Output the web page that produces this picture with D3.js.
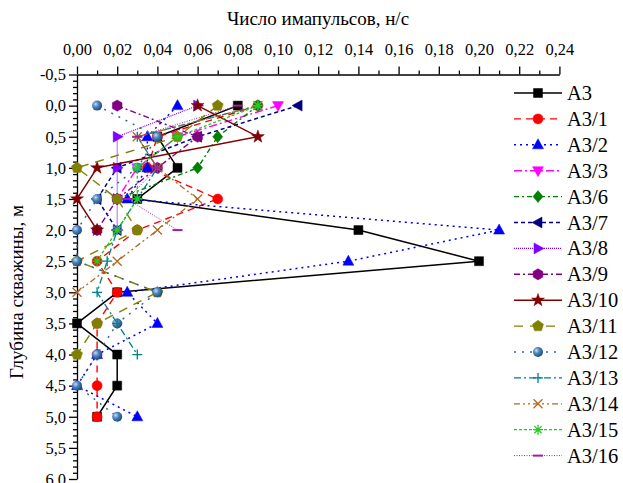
<!DOCTYPE html>
<html><head><meta charset="utf-8">
<script src="https://cdn.jsdelivr.net/npm/d3@7/dist/d3.min.js"></script>
<style>html,body{margin:0;padding:0;background:#fff}svg{display:block}
svg text{font-family:"Liberation Serif","Times New Roman","DejaVu Serif",serif;fill:#000}</style>
</head><body>
<svg id="c" width="623" height="483"></svg>
<script>
// ---- data ----
const depths = [0.0, 0.5, 1.0, 1.5, 2.0, 2.5, 3.0, 3.5, 4.0, 4.5, 5.0];
const seriesNames = ["A3","A3/1","A3/2","A3/3","A3/6","A3/7","A3/8","A3/9","A3/10","A3/11","A3/12","A3/13","A3/14","A3/15","A3/16"];
const vA3   = [0.08, 0.04, 0.05, 0.03, 0.14, 0.20, 0.02, 0.00, 0.02, 0.02, 0.01];
const vA3_1 = [0.09, 0.04, 0.035, 0.07, 0.03, 0.01, 0.02, 0.01, 0.01, 0.01, 0.01];
const vA3_2 = [0.05, 0.035, 0.035, 0.025, 0.21, 0.135, 0.025, 0.04, 0.01, 0.00, 0.03];
const vA3_3 = [0.10, 0.05, 0.03, 0.02];
const vA3_6 = [0.09, 0.07, 0.06, 0.02];
const vA3_7 = [0.11, 0.06, 0.02, 0.01, 0.02];
const vA3_8 = [0.06, 0.02, 0.02, 0.02, 0.02];
const vA3_9 = [0.02, 0.06, 0.04, 0.02, 0.01];
const vA3_10 = [0.06, 0.09, 0.01, 0.00, 0.01];
const vA3_11 = [0.07, 0.05, 0.00, 0.02, 0.03, 0.00, 0.04, 0.01, 0.00];
const vA3_12 = [0.01, 0.04, 0.03, 0.01, 0.00, 0.00, 0.04, 0.02, 0.01, 0.00, 0.02];
const vA3_13 = [0.09, 0.03, 0.04, 0.03, 0.02, 0.015, 0.01, 0.02, 0.03];
const vA3_14 = [0.09, 0.03, 0.04, 0.06, 0.04, 0.02, 0.00];
const vA3_15 = [0.09, 0.05, 0.03, 0.03, 0.02, 0.01];
const vA3_16 = [0.08, 0.03, 0.04, 0.025, 0.05];
const xTickValues = [0,0.02,0.04,0.06,0.08,0.10,0.12,0.14,0.16,0.18,0.20,0.22,0.24];
const yTickValues = [-0.5,0,0.5,1,1.5,2,2.5,3,3.5,4,4.5,5,5.5,6];
const xTitle = "Число имапульсов, н/с";
const yTitle = "Глубина скважины, м";

// ---- styles ----
const styles = {
  "A3":   {color:"#000000", dash:null, marker:"square", w:1.5},
  "A3/1": {color:"#ff0000", dash:"7,5", marker:"circle", w:1.4},
  "A3/2": {color:"#0000ff", dash:"2,4", marker:"triUp", w:1.5},
  "A3/3": {color:"#ff00ff", dash:"8,3,2,3", marker:"triDown", w:1.4},
  "A3/6": {color:"#008000", dash:"5,3,2,3", marker:"diamond", w:1.4},
  "A3/7": {color:"#000080", dash:"4,3", marker:"triLeft", w:1.5},
  "A3/8": {color:"#8000ff", dash:"1,1", marker:"triRight", w:1.2},
  "A3/9": {color:"#800080", dash:"6,3,2,3", marker:"hexagon", w:1.4},
  "A3/10":{color:"#800000", dash:null, marker:"star", w:1.5},
  "A3/11":{color:"#808000", dash:"9,7", marker:"pentagon", w:1.4},
  "A3/12":{color:"#336699", dash:"2,6", marker:"sphere", w:1.5},
  "A3/13":{color:"#008080", dash:"7,3,2,3", marker:"plus", w:1.3},
  "A3/14":{color:"#b06a20", dash:"6,3,2,3,2,3", marker:"x", w:1.3},
  "A3/15":{color:"#22cc22", dash:"3,2", marker:"asterisk", w:1.3},
  "A3/16":{color:"#a020a0", dash:"1,1.5", marker:"dash", w:1.0}
};
const values = {"A3":vA3,"A3/1":vA3_1,"A3/2":vA3_2,"A3/3":vA3_3,"A3/6":vA3_6,"A3/7":vA3_7,"A3/8":vA3_8,"A3/9":vA3_9,"A3/10":vA3_10,"A3/11":vA3_11,"A3/12":vA3_12,"A3/13":vA3_13,"A3/14":vA3_14,"A3/15":vA3_15,"A3/16":vA3_16};

const svg = d3.select("#c");
svg.append("rect").attr("width",623).attr("height",483).attr("fill","#fff");
const defs = svg.append("defs");
const grad = defs.append("radialGradient").attr("id","sph").attr("cx","35%").attr("cy","35%").attr("r","65%");
grad.append("stop").attr("offset","0%").attr("stop-color","#c8dcf0");
grad.append("stop").attr("offset","45%").attr("stop-color","#4f86bf");
grad.append("stop").attr("offset","100%").attr("stop-color","#1f4e80");

const x = d3.scaleLinear().domain([0,0.24]).range([77,559.4]);
const y = d3.scaleLinear().domain([-0.5,6]).range([74.5,479]);
const FONT = '"Liberation Serif","Times New Roman","DejaVu Serif",serif';

function poly(pts){return "M"+pts.map(p=>p[0].toFixed(2)+","+p[1].toFixed(2)).join("L")+"Z";}
function regular(n,r,rot){const p=[];for(let i=0;i<n;i++){const a=rot+i*2*Math.PI/n;p.push([r*Math.cos(a),r*Math.sin(a)]);}return p;}
function markerPath(t){
  switch(t){
    case "square": return "M-4.5,-4.5h9v9h-9Z";
    case "circle": case "sphere": return "M5,0A5,5 0 1,1 -5,0A5,5 0 1,1 5,0Z";
    case "triUp": return poly([[0,-6],[5.5,4],[-5.5,4]]);
    case "triDown": return poly([[0,6],[5.5,-4],[-5.5,-4]]);
    case "triLeft": return poly([[-6,0],[4,-5.5],[4,5.5]]);
    case "triRight": return poly([[6,0],[-4,-5.5],[-4,5.5]]);
    case "diamond": return poly([[0,-6],[5,0],[0,6],[-5,0]]);
    case "hexagon": return poly(regular(6,5.6,-Math.PI/2));
    case "pentagon": return poly(regular(5,5.8,-Math.PI/2));
    case "star": {const p=[];for(let i=0;i<10;i++){const r=i%2?2.7:6.8;const a=-Math.PI/2+i*Math.PI/5;p.push([r*Math.cos(a),r*Math.sin(a)]);}return poly(p);}
    case "plus": return "M-5,0H5M0,-5V5";
    case "x": return "M-4.5,-4.5L4.5,4.5M-4.5,4.5L4.5,-4.5";
    case "asterisk": return "M-5,0H5M0,-5V5M-3.6,-3.6L3.6,3.6M-3.6,3.6L3.6,-3.6";
    case "dash": return "M-5,0H5";
  }
}
const strokeMarkers = new Set(["plus","x","asterisk","dash"]);
function drawMarker(g, t, color, cx, cy){
  const p = g.append("path").attr("d",markerPath(t)).attr("transform",`translate(${cx},${cy})`);
  if(strokeMarkers.has(t)) p.attr("fill","none").attr("stroke",color).attr("stroke-width",t==="dash"?2:1.3);
  else if(t==="sphere") p.attr("fill","url(#sph)").attr("stroke","none");
  else p.attr("fill",color).attr("stroke",color).attr("stroke-width",0.5);
}

// ---- axes ----
const fmt = (d,p)=>d3.format(p)(d).replace(".",",").replace("−","-");
const gx = svg.append("g").attr("transform","translate(0,74.5)");
gx.call(d3.axisTop(x).tickValues(xTickValues).tickSize(8).tickSizeOuter(0).tickFormat(d=>fmt(d,".2f")));
const gxm = svg.append("g").attr("transform","translate(0,74.5)");
gxm.call(d3.axisTop(x).tickValues(d3.range(0.01,0.24,0.02)).tickSize(4).tickSizeOuter(0).tickFormat(""));
gxm.select(".domain").remove();
const gy = svg.append("g").attr("transform","translate(77,0)");
gy.call(d3.axisLeft(y).tickValues(yTickValues).tickSize(8).tickSizeOuter(0).tickFormat(d=>fmt(d,".1f")));
const minorY = d3.range(-0.4,6.0,0.1).filter(v=>Math.abs(v*2-Math.round(v*2))>1e-6);
const gym = svg.append("g").attr("transform","translate(77,0)");
gym.call(d3.axisLeft(y).tickValues(minorY).tickSize(4).tickSizeOuter(0).tickFormat(""));
gym.select(".domain").remove();
[gx,gxm,gy,gym].forEach(g=>{g.attr("font-family",null).attr("font-size",null);g.selectAll("path,line").attr("stroke","#000").attr("stroke-width",1.3);});
gx.selectAll("text").style("font-family",FONT).style("font-size","16.5px").attr("fill","#000").attr("dy","-0.5em");
gy.selectAll("text").style("font-family",FONT).style("font-size","16.5px").attr("fill","#000").attr("x",-11);

svg.append("text").attr("x",318).attr("y",25).attr("text-anchor","middle").style("font-family",FONT).style("font-size","19px").text(xTitle);
svg.append("text").attr("transform","translate(23,292) rotate(-90)").attr("text-anchor","middle").style("font-family",FONT).style("font-size","19px").text(yTitle);

// ---- series ----
const plot = svg.append("g");
const line = d3.line().x(d=>x(d.v)).y(d=>y(d.d)).defined(d=>d.v!=null);
seriesNames.forEach(name=>{
  const st = styles[name];
  const pts = values[name].map((v,i)=>({d:depths[i],v:v}));
  const g = plot.append("g");
  g.append("path").datum(pts).attr("d",line).attr("fill","none").attr("stroke",st.color)
    .attr("stroke-width",st.w).attr("stroke-dasharray",st.dash).attr("stroke-linejoin","round");
  pts.forEach(p=>{ if(p.v!=null) drawMarker(g, st.marker, st.color, x(p.v), y(p.d)); });
});

// ---- legend ----
const lg = svg.append("g");
seriesNames.forEach((name,i)=>{
  const st = styles[name];
  const yy = 93 + i*25.9;
  lg.append("line").attr("x1",514).attr("x2",562).attr("y1",yy).attr("y2",yy)
    .attr("stroke",st.color).attr("stroke-width",st.w).attr("stroke-dasharray",st.dash);
  drawMarker(lg, st.marker, st.color, 538, yy);
  lg.append("text").attr("x",567).attr("y",yy+7).style("font-family",FONT).style("font-size","20.5px").text(name);
});
</script>
</body></html>
